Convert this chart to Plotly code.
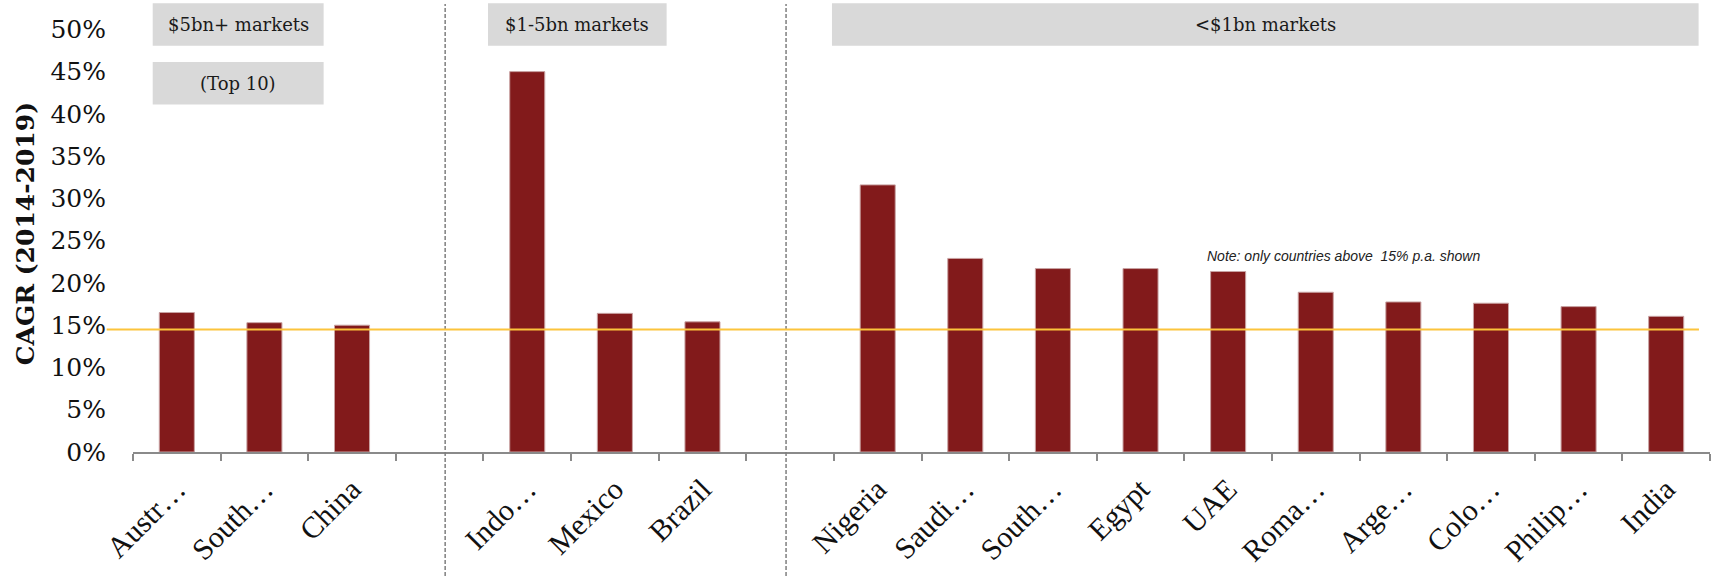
import plotly.graph_objects as go

# CAGR 2014-2019 by market, grouped by market size
large_markets = ["Austr…", "South…", "China"]
large_cagr = [0.165, 0.153, 0.150]

mid_markets = ["Indo…", "Mexico", "Brazil"]
mid_cagr = [0.450, 0.164, 0.154]

small_markets = ["Nigeria", "Saudi…", "South…", "Egypt", "UAE",
                 "Roma…", "Arge…", "Colo…", "Philip…", "India"]
small_cagr = [0.316, 0.229, 0.217, 0.217, 0.2135,
              0.189, 0.1775, 0.176, 0.172, 0.1605]

group_titles = ["$5bn+ markets", "$1-5bn markets", "<$1bn markets"]
sub_title = "(Top 10)"
threshold = 0.145
note_text = "Note: only countries above  15% p.a. shown"
y_title = "CAGR (2014-2019)"
y_ticks = [0.0, 0.05, 0.10, 0.15, 0.20, 0.25, 0.30, 0.35, 0.40, 0.45, 0.50]

# lay the groups out on one axis with an empty slot between groups
groups = [(large_markets, large_cagr), (mid_markets, mid_cagr), (small_markets, small_cagr)]
pos, labels, values = [], [], []
slot = 0
for names, vals in groups:
    for n, v in zip(names, vals):
        pos.append(slot)
        labels.append(n)
        values.append(v)
        slot += 1
    slot += 1
n_slots = slot - 1  # 18

BAR = "#821a1b"
GREY_AXIS = "#8a8a8a"
BOX = "#d9d9d9"
SERIF_G = "DejaVu Serif"
SERIF_T = "Liberation Serif"


def px(u):
    """slot units -> paper x"""
    return (u + 0.5) / n_slots


fig = go.Figure()
fig.add_trace(go.Bar(
    x=pos, y=values, width=0.4,
    marker=dict(color=BAR, line=dict(color="#c9a3a3", width=1)),
    hoverinfo="skip", showlegend=False,
))

shapes = []
# header boxes
box_spans = [(-0.275, 1.676), (3.552, 5.591), (7.478, 17.37)]
for (x0, x1) in box_spans:
    shapes.append(dict(type="rect", xref="paper", yref="paper",
                       x0=px(x0), x1=px(x1), y0=0.907, y1=1.0016,
                       fillcolor=BOX, line=dict(width=0), layer="below"))
shapes.append(dict(type="rect", xref="paper", yref="paper",
                   x0=px(box_spans[0][0]), x1=px(box_spans[0][1]), y0=0.7757, y1=0.8705,
                   fillcolor=BOX, line=dict(width=0), layer="below"))
# group separators
for xs in (3.063, 6.954):
    shapes.append(dict(type="line", xref="paper", yref="paper",
                       x0=px(xs), x1=px(xs), y0=-0.277, y1=1.0,
                       line=dict(color="#7f7f7f", width=1.5, dash="4px,2px")))
# threshold line
shapes.append(dict(type="line", xref="paper", yref="y",
                   x0=-0.0167, x1=0.993, y0=threshold, y1=threshold,
                   line=dict(color="#fcc43c", width=2), layer="above"))

annotations = []
for (x0, x1), t in zip(box_spans, group_titles):
    annotations.append(dict(xref="paper", yref="paper", x=px((x0 + x1) / 2), y=0.954,
                            text=t, showarrow=False, xanchor="center", yanchor="middle",
                            font=dict(family=SERIF_G, size=18, color="#1a1a1a")))
annotations.append(dict(xref="paper", yref="paper",
                        x=px((box_spans[0][0] + box_spans[0][1]) / 2), y=0.823,
                        text=sub_title, showarrow=False, xanchor="center", yanchor="middle",
                        font=dict(family=SERIF_G, size=18, color="#1a1a1a")))
annotations.append(dict(xref="x", yref="y", x=13.32, y=0.2313,
                        text="<i>" + note_text.replace("  ", "&nbsp; ") + "</i>",
                        showarrow=False, xanchor="center", yanchor="middle",
                        font=dict(family="Liberation Sans", size=14, color="#222222")))
annotations.append(dict(xref="paper", yref="paper", x=-0.0685, y=0.488, text="<b>" + y_title + "</b>",
                        showarrow=False, textangle=-90, xanchor="center", yanchor="middle",
                        font=dict(family=SERIF_G, size=25, color="#111111")))

fig.update_layout(
    width=1719, height=576,
    margin=dict(l=133, r=9, t=4, b=124),
    paper_bgcolor="white", plot_bgcolor="white",
    shapes=shapes, annotations=annotations,
    xaxis=dict(
        range=[-0.5, n_slots - 0.5],
        tickmode="array", tickvals=pos, ticktext=labels,
        tickangle=-45, ticks="",
        tickfont=dict(family=SERIF_T, size=30, color="#111111"),
        showline=True, linecolor=GREY_AXIS, linewidth=1.5,
        showgrid=False, zeroline=False,
        ticklabelstandoff=6,
        minor=dict(tickmode="linear", tick0=-0.5, dtick=1, ticks="outside",
                   ticklen=7, tickcolor=GREY_AXIS, tickwidth=1.5, showgrid=False),
    ),
    yaxis=dict(
        range=[0, 0.53],
        tickmode="array", tickvals=y_ticks, tickformat=".0%",
        tickfont=dict(family=SERIF_G, size=25, color="#111111"),
        showgrid=False, zeroline=False, showline=False, ticks="",
        ticklabelstandoff=26,
    ),
)

fig.write_html("out.html")
